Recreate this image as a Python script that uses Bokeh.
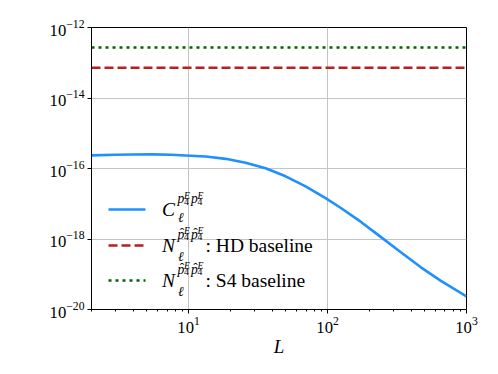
import math
from bokeh.plotting import figure
from bokeh.models import FixedTicker, Label, Arrow
from bokeh.embed import file_html
from bokeh.resources import INLINE

# ---- data ----
L_vals = [2, 3, 4, 5.5, 7.5, 9.5, 13.3, 18.5, 25.7, 35.8, 49.9, 69.5, 96.8, 124, 173, 240, 335, 467, 650, 1000]
C_vals = [2.35e-16, 2.45e-16, 2.5e-16, 2.52e-16, 2.45e-16, 2.34e-16, 2.19e-16, 1.88e-16, 1.45e-16, 1.02e-16,
          6.0e-17, 3.1e-17, 1.45e-17, 7.7e-18, 3.1e-18, 1.17e-18, 4.3e-19, 1.6e-19, 6.6e-20, 2.35e-20]
L_span = [2, 1000]
N_HD = [7.2e-14, 7.2e-14]
N_S4 = [2.7e-13, 2.7e-13]
x_major = [10, 100, 1000]
x_minor = [2, 3, 4, 5, 6, 7, 8, 9, 20, 30, 40, 50, 60, 70, 80, 90, 200, 300, 400, 500, 600, 700, 800, 900]
y_major = [1e-20, 1e-18, 1e-16, 1e-14, 1e-12]

FONT = "Liberation Serif"
BLUE, RED, GREEN = "#1e90ff", "#b22222", "#006400"
DASH_HD, DASH_S4 = "9 4", "3 4"

p = figure(width=490, height=366, x_axis_type="log", y_axis_type="log",
           x_range=(2, 1000), y_range=(1e-20, 1e-12),
           output_backend="svg", toolbar_location=None,
           min_border_left=91, min_border_right=24, min_border_top=27, min_border_bottom=57)

p.line(L_vals, C_vals, line_color=BLUE, line_width=2.6)
p.line(L_span, N_HD, line_color=RED, line_width=2.6, line_dash=DASH_HD)
p.line(L_span, N_S4, line_color=GREEN, line_width=2.6, line_dash=DASH_S4)

p.xaxis.ticker = FixedTicker(ticks=x_major, minor_ticks=x_minor)
p.yaxis.ticker = FixedTicker(ticks=y_major, minor_ticks=[])

for ax in (p.xaxis, p.yaxis):
    ax.axis_line_color = "black"
    ax.major_tick_line_color = "black"
    ax.minor_tick_line_color = "black"
    ax.major_tick_out = 4
    ax.major_tick_in = 0
    ax.minor_tick_out = 2
    ax.minor_tick_in = 0
    ax.major_label_text_font = FONT
    ax.major_label_text_font_size = "16.7px"
    ax.major_label_text_color = "black"
    ax.major_label_standoff = 3

p.xaxis.axis_label = "L"
p.xaxis.axis_label_text_font = FONT
p.xaxis.axis_label_text_font_style = "italic"
p.xaxis.axis_label_text_font_size = "19px"
p.xaxis.axis_label_text_color = "black"
p.xaxis.axis_label_standoff = 0

p.grid.grid_line_color = "#c4c4c4"
p.grid.grid_line_width = 1
p.outline_line_color = "black"
p.outline_line_width = 1
p.outline_line_alpha = 1

FX, FY = 91, 309  # frame bottom-left in page pixels


def lab(text, X, Y, size, italic=False, angle=0.0, font=FONT):
    p.add_layout(Label(x=X - FX, y=FY - Y, x_units="screen", y_units="screen", text=text,
                       text_font=font, text_font_size=f"{size}px",
                       text_font_style="italic" if italic else "normal",
                       text_color="black", text_baseline="alphabetic", text_align="left",
                       angle=angle))


def sample(Y, color, dash):
    p.add_layout(Arrow(end=None, x_start=108 - FX, y_start=FY - Y, x_end=145 - FX, y_end=FY - Y,
                       start_units="screen", end_units="screen",
                       line_color=color, line_width=2.6, line_dash=dash))


def p4E(X, Y, hat):
    lab("p", X, Y, 13.6, italic=True)
    if hat:
        lab("\u02c6", X + 2.2, Y - 1, 13.6)
    lab("E", X + 6.5, Y - 3.5, 9.7, italic=True)
    lab("4", X + 6.5, Y + 2.6, 9.7)


def entry(Yb, main, hat, tail):
    lab(main, 161.5, Yb, 19.5, italic=True)
    lab("\u2113", 177.5, Yb + (8.5 if not hat else 10.5), 13.6, italic=True)
    sy = Yb - (10.5 if not hat else 11.5)
    p4E(177, sy, hat)
    p4E(190.5, sy, hat)
    if tail:
        lab(tail, 205, Yb, 19.5)


# legend
sample(209, BLUE, "solid")
sample(245, RED, DASH_HD)
sample(280, GREEN, DASH_S4)
entry(208.5, "C", False, None)
entry(245, "N", True, ": HD baseline")
entry(280, "N", True, ": S4 baseline")

# y-axis label  C_l^{pp}
ang = math.pi / 2
lab("C", 32, 180, 20, italic=True, angle=ang)
lab("pp", 20.5, 162, 13.6, italic=True, angle=ang)
lab("\u2113", 34.5, 166, 12.5, italic=True, angle=ang)

open("out.html", "w").write(file_html(p, INLINE))
